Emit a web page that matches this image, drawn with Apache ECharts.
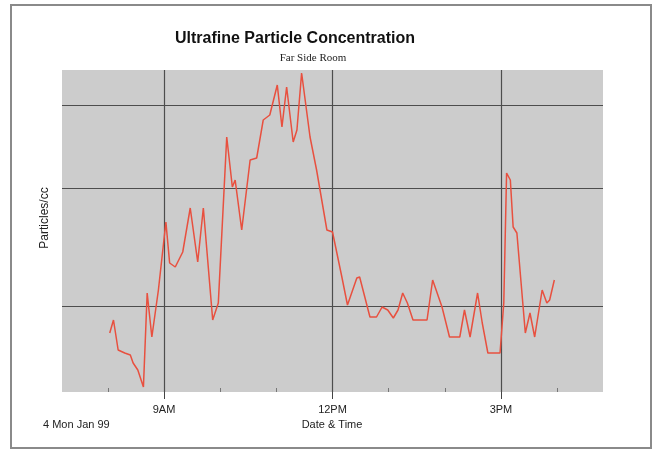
<!DOCTYPE html>
<html>
<head>
<meta charset="utf-8">
<script src="https://cdn.jsdelivr.net/npm/echarts@6/dist/echarts.min.js"></script>
<style>
html,body{margin:0;padding:0;background:#fff;}
#c{width:658px;height:454px;}
</style>
</head>
<body>
<div id="c"></div>
<script>
// Times (HH:MM) and relative particle concentration
var times = ["8:02","8:06","8:11","8:18","8:24","8:27","8:32","8:38","8:42","8:47","8:54",
"9:02","9:06","9:12","9:20","9:28","9:36","9:42","9:52","9:58",
"10:07","10:13","10:16","10:23","10:32","10:39","10:46","10:53",
"11:01","11:06","11:11","11:18","11:22","11:27","11:36","11:43","11:54",
"12:00","12:10","12:16","12:26","12:29","12:40","12:47","12:53","12:59",
"13:05","13:10","13:15","13:20","13:26","13:41","13:47","13:57",
"14:05","14:16","14:21","14:27","14:35","14:40","14:46","14:59",
"15:03","15:06","15:10","15:13","15:17","15:26","15:31","15:36","15:44","15:49","15:52","15:57"];
var particles = [59,72,42,39,37,29,22,5,99,55,102,
170,129,125,140,184,130,184,72,89,
255,205,212,162,232,234,272,277,
307,265,305,250,262,319,255,222,162,
160,115,87,114,115,75,75,85,82,
74,82,99,89,72,72,112,85,
55,55,82,55,99,69,39,39,
89,219,212,165,159,59,79,55,102,89,92,112];
var majorTicks = [540, 720, 900];          // 9AM, 12PM, 3PM (minutes)
var majorLabels = {540:"9AM", 720:"12PM", 900:"3PM"};
var minorTicks = [480, 600, 660, 780, 840, 960];
var ySplits = [86, 204, 287];

function toMin(s){var p=s.split(":");return (+p[0])*60+(+p[1]);}
var seriesData = times.map(function(t,i){return [toMin(t), particles[i]];});

var chart = echarts.init(document.getElementById('c'));
var gridLineStyle = {color:'#4d4d4d', width:1.2, type:'solid'};
var marks = [];
majorTicks.forEach(function(v){marks.push({xAxis:v});});
ySplits.forEach(function(v){marks.push({yAxis:v});});

chart.setOption({
  animation:false,
  backgroundColor:'#ffffff',
  graphic:[
    {type:'rect', shape:{x:11,y:5,width:640,height:443}, style:{fill:'none', stroke:'#8a8a8a', lineWidth:2}, z:-1},
    {type:'text', left:175, top:31, style:{text:'Ultrafine Particle Concentration', font:'bold 16px "Liberation Sans", Arial, sans-serif', fill:'#111'}},
    {type:'text', x:313, y:58, style:{text:'Far Side Room', font:'11px "Liberation Serif", "Times New Roman", serif', fill:'#222', align:'center', verticalAlign:'middle'}},
    {type:'text', x:45, y:218, rotation:Math.PI/2, style:{text:'Particles/cc', font:'12px "Liberation Sans", Arial, sans-serif', fill:'#222', align:'center', verticalAlign:'middle'}},
    {type:'text', x:43, y:425, style:{text:'4 Mon Jan 99', font:'11px "Liberation Sans", Arial, sans-serif', fill:'#222', align:'left', verticalAlign:'middle'}},
    {type:'text', x:332, y:425, style:{text:'Date & Time', font:'11px "Liberation Sans", Arial, sans-serif', fill:'#222', align:'center', verticalAlign:'middle'}}
  ],
  grid:{left:62, top:70, width:541, height:322, show:true, backgroundColor:'#cccccc', borderWidth:0},
  xAxis:[{
    type:'value', min:431, max:1009,
    axisLine:{show:false},
    splitLine:{show:false},
    axisTick:{show:true, customValues:majorTicks, length:7, lineStyle:{color:'#444', width:1}},
    axisLabel:{show:true, customValues:majorTicks, margin:12, color:'#222', fontSize:11, fontFamily:'"Liberation Sans", Arial, sans-serif',
      formatter:function(v){return majorLabels[v]||'';}}
  },{
    type:'value', min:431, max:1009, position:'bottom', gridIndex:0,
    axisLine:{show:false}, splitLine:{show:false}, axisLabel:{show:false},
    axisTick:{show:true, inside:true, customValues:minorTicks, length:4, lineStyle:{color:'#777', width:1}}
  }],
  yAxis:{
    type:'value', min:0, max:322,
    axisLine:{show:false}, axisTick:{show:false}, axisLabel:{show:false}, splitLine:{show:false}
  },
  series:[{
    type:'line', data:seriesData, xAxisIndex:0, showSymbol:false, symbol:'none',
    lineStyle:{color:'#e8503f', width:1.5},
    z:3,
    markLine:{silent:true, symbol:'none', label:{show:false}, lineStyle:gridLineStyle, data:marks, z:1}
  }]
});
</script>
</body>
</html>
